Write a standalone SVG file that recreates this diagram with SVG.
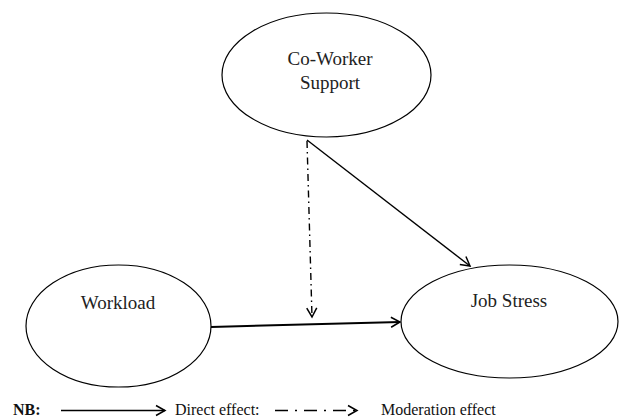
<svg xmlns="http://www.w3.org/2000/svg" width="619" height="417" viewBox="0 0 619 417">
<style>
.node{fill:#fff;stroke:#000;stroke-width:1.2}
.lbl{font-family:'Liberation Serif','Times New Roman','DejaVu Serif',serif;font-size:19px;fill:#222;text-anchor:middle}
.leg{font-family:'Liberation Serif','Times New Roman','DejaVu Serif',serif;font-size:16px;fill:#111}
.solid{fill:none;stroke:#000;stroke-width:1.4}
.dash{fill:none;stroke:#000;stroke-width:1.4;stroke-dasharray:7 4 1.5 4}
</style>
<defs>
<marker id="chev" markerUnits="userSpaceOnUse" markerWidth="12" markerHeight="12" refX="10" refY="5" orient="auto" overflow="visible">
<path d="M1,0 L10,5 L1,10" fill="none" stroke="#000" stroke-width="1.5"/>
</marker>
</defs>
<g id="connectors">
<path class="solid" d="M307,140 L470,266" marker-end="url(#chev)"/>
<path class="solid" style="stroke-width:2" d="M211,327 L400,322" marker-end="url(#chev)"/>
<path class="dash" d="M307,141 L312,317" marker-end="url(#chev)"/>
</g>
<g id="coworker">
<ellipse class="node" cx="326.5" cy="75" rx="104.5" ry="62"/>
<text class="lbl" x="330" y="65">Co-Worker</text>
<text class="lbl" x="330" y="89">Support</text>
</g>
<g id="workload">
<ellipse class="node" cx="118.5" cy="326" rx="92.5" ry="61"/>
<text class="lbl" x="118" y="309">Workload</text>
</g>
<g id="jobstress">
<ellipse class="node" cx="509.5" cy="321.5" rx="108.5" ry="56.5"/>
<text class="lbl" x="509" y="307">Job Stress</text>
</g>
<g id="legend">
<text class="leg" x="13" y="415" font-weight="bold">NB:</text>
<path class="solid" d="M61,410.5 L165,410.5" marker-end="url(#chev)"/>
<text class="leg" x="175" y="415">Direct effect:</text>
<path fill="none" stroke="#000" stroke-width="1.6" stroke-dasharray="13 7 2 7" d="M275,410.5 L357,410.5" marker-end="url(#chev)"/>
<text class="leg" x="381" y="415">Moderation effect</text>
</g>
</svg>
